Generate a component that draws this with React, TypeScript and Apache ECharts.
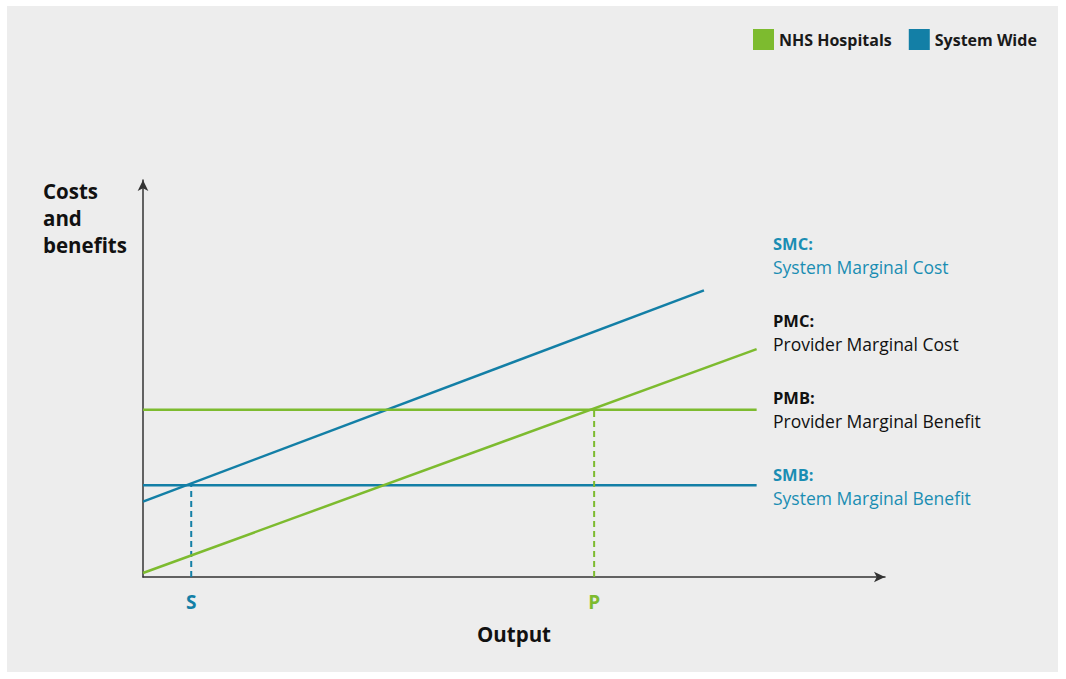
import React, { useEffect, useRef } from "react";
import * as echarts from "echarts";

const GREEN = "#7dbb2f";
const BLUE = "#137fa6";
const BLUE_TEXT = "#1a8db3";

const legendNames = ["NHS Hospitals", "System Wide"];
// Output (x) vs costs/benefits (y), in arbitrary units 0-100
const smcLine = [[0, 19], [75.6, 72.2]];
const pmcLine = [[0, 1], [82.7, 57.4]];
const pmbLine = [[0, 42.1], [82.7, 42.1]];
const smbLine = [[0, 23.1], [82.7, 23.1]];
const sPoint = [[6.5, 0], [6.5, 23.1]];
const pPoint = [[60.8, 0], [60.8, 42.1]];
const tickValues = [6.5, 60.8];
const tickNames = ["S", "P"];
const curveLabels = [
  { code: "SMC:", name: "System Marginal Cost", color: BLUE_TEXT, y: 237 },
  { code: "PMC:", name: "Provider Marginal Cost", color: "#111", y: 314 },
  { code: "PMB:", name: "Provider Marginal Benefit", color: "#111", y: 391 },
  { code: "SMB:", name: "System Marginal Benefit", color: BLUE_TEXT, y: 468 },
];

const FONT = "'Open Sans', 'Noto Sans', sans-serif";

export default function App() {
  const ref = useRef<HTMLDivElement>(null);
  useEffect(() => {
    document.body.style.margin = "0";
    const chart = echarts.init(ref.current!, null, { renderer: "svg" });
    const graphic: any[] = [
      {
        type: "text",
        left: 36,
        top: 171,
        style: {
          text: "Costs\nand\nbenefits",
          font: `bold 20.5px ${FONT}`,
          fill: "#111",
          lineHeight: 27,
        },
      },
    ];
    curveLabels.forEach((c) => {
      graphic.push({
        type: "text",
        x: 766,
        y: c.y,
        style: { text: c.code, font: `bold 16.5px ${FONT}`, fill: c.color, textVerticalAlign: "middle" },
      });
      graphic.push({
        type: "text",
        x: 766,
        y: c.y + 24,
        style: { text: c.name, font: `17.5px ${FONT}`, fill: c.color, textVerticalAlign: "middle" },
      });
    });
    const lineSeries = (name: string, data: number[][], color: string, dashed = false) => ({
      type: "line",
      name,
      data,
      symbol: "none",
      silent: true,
      lineStyle: dashed
        ? { color, width: 2, type: [6, 4] }
        : { color, width: 2.5 },
      itemStyle: { color },
    });
    chart.setOption({
      animation: false,
      backgroundColor: "#ededed",
      textStyle: { fontFamily: FONT },
      legend: {
        left: 746,
        top: 23,
        padding: 0,
        itemWidth: 21,
        itemHeight: 21,
        itemGap: 17,
        icon: "rect",
        data: legendNames,
        textStyle: { fontSize: 16, fontWeight: "bold", color: "#1a1a1a", fontFamily: FONT },
        selectedMode: false,
      },
      grid: { left: 136, right: 173, top: 174, bottom: 95 },
      xAxis: {
        type: "value",
        min: 0,
        max: 100,
        name: "Output",
        nameLocation: "middle",
        nameGap: 46,
        nameTextStyle: { fontSize: 20.5, fontWeight: "bold", color: "#111", fontFamily: FONT },
        axisLine: {
          show: true,
          symbol: ["none", "arrow"],
          symbolSize: [8, 11],
          lineStyle: { color: "#333", width: 1.5 },
        },
        axisTick: { show: false },
        splitLine: { show: false },
        axisLabel: {
          customValues: tickValues,
          margin: 15,
          formatter: (v: number) => {
            const i = tickValues.indexOf(v);
            return i === 0 ? `{s|${tickNames[0]}}` : `{p|${tickNames[1]}}`;
          },
          rich: {
            s: { fontSize: 19, fontWeight: "bold", color: BLUE, fontFamily: FONT },
            p: { fontSize: 19, fontWeight: "bold", color: GREEN, fontFamily: FONT },
          },
        },
      },
      yAxis: {
        type: "value",
        min: 0,
        max: 100,
        axisLine: {
          show: true,
          symbol: ["none", "arrow"],
          symbolSize: [8, 11],
          lineStyle: { color: "#333", width: 1.5 },
        },
        axisTick: { show: false },
        axisLabel: { show: false },
        splitLine: { show: false },
      },
      graphic,
      series: [
        lineSeries("System Wide", smcLine, BLUE),
        lineSeries("System Wide", smbLine, BLUE),
        lineSeries("System Wide", sPoint, BLUE, true),
        lineSeries("NHS Hospitals", pmcLine, GREEN),
        lineSeries("NHS Hospitals", pmbLine, GREEN),
        lineSeries("NHS Hospitals", pPoint, GREEN, true),
      ],
    });
    return () => chart.dispose();
  }, []);
  return (
    <div
      ref={ref}
      style={{ position: "absolute", left: 7, top: 6, width: 1051, height: 666 }}
    />
  );
}
